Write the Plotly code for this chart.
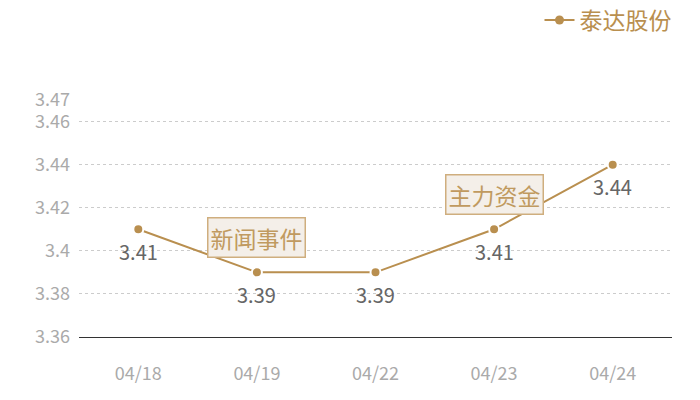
import plotly.graph_objects as go

# data
dates = ["04/18", "04/19", "04/22", "04/23", "04/24"]
prices = [3.41, 3.39, 3.39, 3.41, 3.44]
series_name = "泰达股份"

y_ticks = [3.36, 3.38, 3.40, 3.42, 3.44, 3.46, 3.47]
y_tick_labels = ["3.36", "3.38", "3.4", "3.42", "3.44", "3.46", "3.47"]

# event tags pinned to points
event_dates = ["04/19", "04/23"]
event_labels = ["新闻事件", "主力资金"]

GOLD = "#b98f4f"
FONT = "Noto Sans CJK SC"

fig = go.Figure()

fig.add_trace(go.Scatter(
    x=dates,
    y=prices,
    mode="lines+markers",
    name=series_name,
    showlegend=False,
    line=dict(color=GOLD, width=2),
    marker=dict(color=GOLD, size=10, line=dict(color="white", width=2)),
))

# legend entry without the white marker ring
fig.add_trace(go.Scatter(
    x=[None], y=[None],
    mode="lines+markers",
    name=series_name,
    line=dict(color=GOLD, width=2),
    marker=dict(color=GOLD, size=9),
))

# value labels below each point
for d, v in zip(dates, prices):
    fig.add_annotation(
        x=d, y=v, text=f"{v:g}", showarrow=False,
        yanchor="middle", yshift=-22,
        font=dict(family=FONT, size=20, color="#666666"),
    )

for d, lbl in zip(event_dates, event_labels):
    fig.add_annotation(
        x=d,
        y=prices[dates.index(d)],
        text=lbl,
        showarrow=False,
        yanchor="middle",
        yshift=35,
        font=dict(family=FONT, size=23, color="#c09a60"),
        bgcolor="#f4efe9",
        bordercolor="#cfae7e",
        borderwidth=1.5,
        borderpad=2,
    )

# page body adds an 8px offset, so margins are shifted to compensate
fig.update_layout(
    width=700,
    height=400,
    margin=dict(l=71, r=36, t=92, b=71, autoexpand=False),
    paper_bgcolor="white",
    plot_bgcolor="white",
    font=dict(family=FONT),
    showlegend=True,
    legend=dict(
        xref="container",
        yref="container",
        x=0.955,
        xanchor="right",
        y=0.97,
        yanchor="middle",
        font=dict(family=FONT, size=23, color=GOLD),
        itemwidth=30,
    ),
    xaxis=dict(
        type="category",
        range=[-0.5, 4.5],
        showgrid=False,
        showline=True,
        linecolor="#333333",
        linewidth=1,
        ticks="",
        tickfont=dict(family=FONT, size=18, color="#aaaaaa"),
        ticklabelstandoff=20,
    ),
    yaxis=dict(
        range=[3.36, 3.47],
        tickvals=y_ticks,
        ticktext=y_tick_labels,
        showgrid=True,
        gridcolor="#cccccc",
        griddash="dot",
        gridwidth=1,
        zeroline=False,
        showline=False,
        ticks="",
        tickfont=dict(family=FONT, size=18, color="#aaaaaa"),
        ticklabelstandoff=8,
    ),
)

fig.write_html("out.html")
